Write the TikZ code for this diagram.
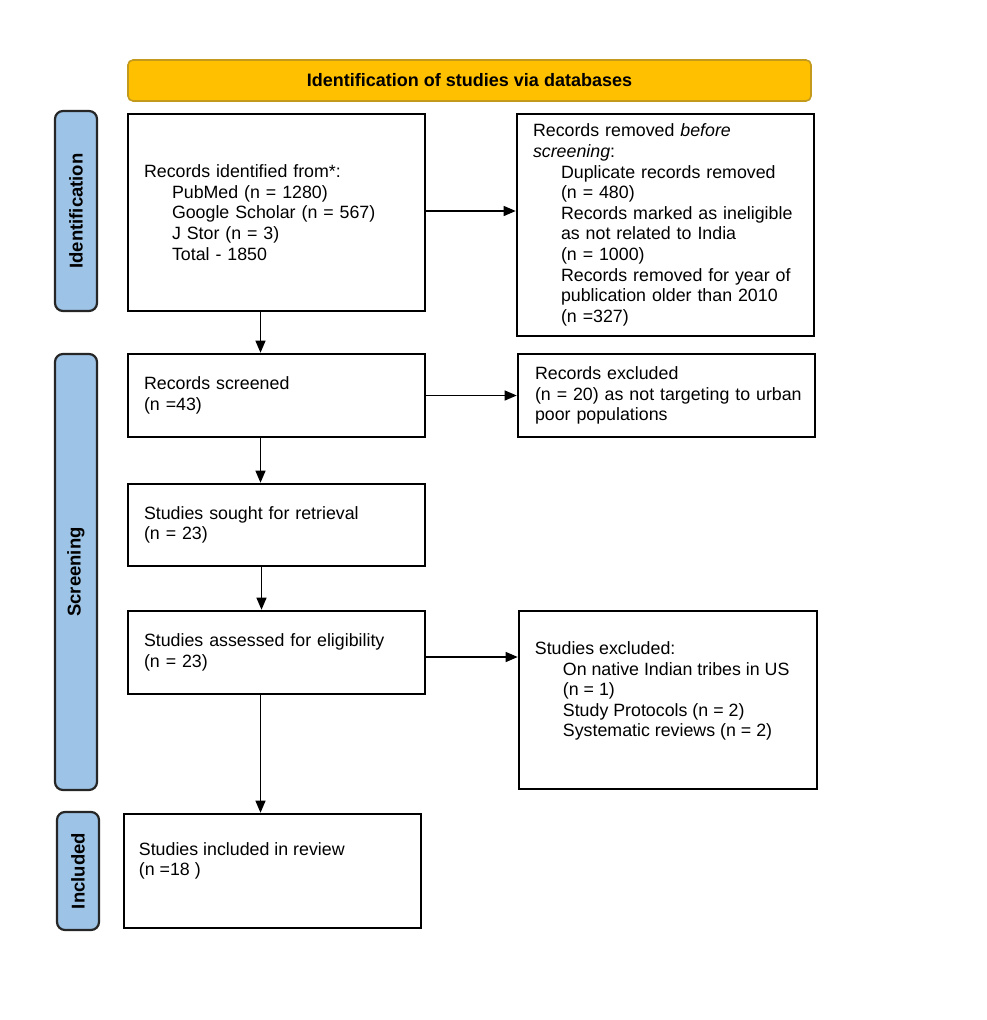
\documentclass[tikz,border=0pt]{standalone}
\usepackage{fontspec}
\setmainfont{Liberation Sans}
\usetikzlibrary{arrows.meta}
\definecolor{bannerfill}{HTML}{FFC000}
\definecolor{bannerline}{HTML}{C49A1C}
\definecolor{sidefill}{HTML}{9DC3E6}
\newcommand{\ind}{\hspace*{28pt}}
\begin{document}
\begin{tikzpicture}[x=1pt,y=-1pt,
  every node/.style={font=\fontsize{17.8}{20.6}\selectfont},
  box/.style={draw=black, line width=2.6pt, fill=white, minimum width=297pt, inner xsep=16pt, text width=265pt, align=left},
  plain/.style={draw=black, line width=2.6pt, fill=white, minimum width=297pt},
  txt/.style={anchor=west, align=left, inner sep=0pt},
  side/.style={draw=black!85, line width=2.2pt, fill=sidefill, rounded corners=8pt, rotate=90, minimum height=42pt, inner sep=0pt, font=\fontsize{18.5}{20}\selectfont\bfseries},
  arr/.style={draw=black, line width=1.2pt, -{Triangle[length=12pt,width=10pt]}}]
\useasboundingbox (0,0) rectangle (986,1020);
\fill[white] (0,0) rectangle (986,1020);

% banner
\node[draw=bannerline, line width=1.6pt, fill=bannerfill, rounded corners=5pt, minimum width=683pt, minimum height=41pt, font=\fontsize{18}{20}\selectfont\bfseries] (banner) at (469.5,80.5) {Identification of studies via databases};

% side labels
\node[side, minimum width=200pt] (sideid) at (76,211) {Identification};
\node[side, minimum width=436pt] (sidescr) at (76,572) {Screening};
\node[side, minimum width=118pt] (sideinc) at (78,871) {Included};

% boxes
\node[box, minimum height=197pt] (ident) at (276.5,212.5) {Records identified from*:\\
\ind PubMed (n = 1280)\\
\ind Google Scholar (n = 567)\\
\ind J Stor (n = 3)\\
\ind Total - 1850};

\node[box, minimum height=222pt] (removed) at (665.5,225) {Records removed \emph{before}\\
\emph{screening}:\\
\ind Duplicate records removed\\
\ind (n = 480)\\
\ind Records marked as ineligible\\
\ind as not related to India\\
\ind (n = 1000)\\
\ind Records removed for year of\\
\ind publication older than 2010\\
\ind (n =327)};

\node[box, minimum height=83pt] (screened) at (276.5,395.5) {Records screened\\(n =43)};
\node[box, minimum height=83pt, inner xsep=17pt, text width=263pt] (rexcl) at (666.5,395.5) {Records excluded\\\mbox{(n = 20) as not targeting to urban}\\poor populations};
\node[box, minimum height=82pt] (sought) at (276.5,525) {Studies sought for retrieval\\(n = 23)};
\node[box, minimum height=83pt] (assessed) at (276.5,652.5) {Studies assessed for eligibility\\(n = 23)};

\node[plain, minimum width=298pt, minimum height=178pt] (sexcl) at (668,700) {};
\node[txt] (sexcltxt) at ([xshift=17pt,yshift=9pt]sexcl.west) {Studies excluded:\\
\ind On native Indian tribes in US\\
\ind (n = 1)\\
\ind Study Protocols (n = 2)\\
\ind Systematic reviews (n = 2)};

\node[plain, minimum height=114pt] (included) at (272.5,871) {};
\node[txt] (includedtxt) at ([xshift=16pt,yshift=10pt]included.west) {Studies included in review\\(n =18 )};

% connectors
\draw[arr] ([xshift=-16pt]ident.south) -- ([xshift=-16pt]screened.north);
\draw[arr] ([yshift=1.5pt]ident.east) -- ([yshift=1.5pt]ident.east -| removed.west);
\draw[arr] (screened.east) -- (rexcl.west);
\draw[arr] ([xshift=-16pt]screened.south) -- ([xshift=-16pt]sought.north);
\draw[arr] ([xshift=-15pt]sought.south) -- ([xshift=-15pt]assessed.north);
\draw[arr] ([yshift=-4.5pt]assessed.east) -- ([yshift=-4.5pt]assessed.east -| sexcl.west);
\draw[arr] ([xshift=-16pt]assessed.south) -- ([xshift=-16pt]assessed.south |- included.north);
\end{tikzpicture}
\end{document}
